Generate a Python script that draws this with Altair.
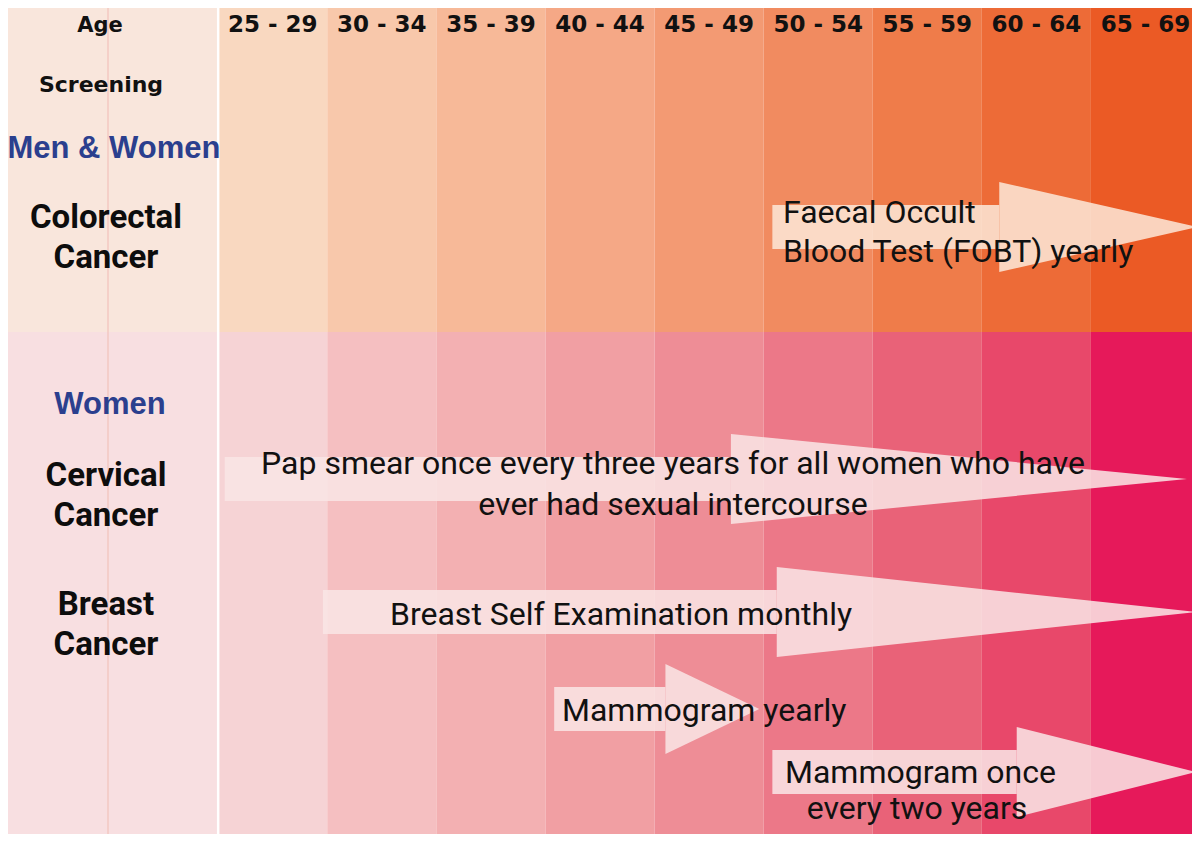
import altair as alt
import pandas as pd

# ---------------- data ----------------
age_groups = ["25 - 29", "30 - 34", "35 - 39", "40 - 44", "45 - 49",
              "50 - 54", "55 - 59", "60 - 64", "65 - 69"]
age_start = [25, 30, 35, 40, 45, 50, 55, 60, 65]

top_colors = ["#f9d8c0", "#f8c8ab", "#f7b998", "#f5a886", "#f39a73",
              "#f18b60", "#ef7c4a", "#ed6b37", "#eb5a25"]
bottom_colors = ["#f6d3d5", "#f5bfc1", "#f3b0b2", "#f19fa3", "#ee8d96",
                 "#ec7888", "#e96278", "#e8486a", "#e6195a"]
left_top_color = "#f9e6dc"
left_bottom_color = "#f8dfe1"

# screening recommendations (arrows), in age units
arrow_names = ["FOBT", "Pap smear", "Breast self exam", "Mammogram yearly", "Mammogram 2y"]
arrow_start = [50.4, 25.3, 29.8, 40.4, 50.4]
arrow_head = [60.8, 48.5, 50.6, 45.5, 61.6]
arrow_tip = [69.9, 69.4, 69.8, 49.8, 69.8]
arrow_row = [227, 479, 612, 709, 772]
arrow_fill = ["#fbe6d6", "#f9e5e5", "#f9e5e5", "#f9e5e5", "#f9e5e5"]

# ---------------- layout helpers ----------------
W, H = 1200, 842
AGE_MIN, AGE_MAX = 15, 70
SECTION_SPLIT = 332
SHAFT_HALF, HEAD_HALF = 22, 45
ARROW_OPACITY = 0.87


def px_to_age(px):
    return AGE_MIN + px * (AGE_MAX - AGE_MIN) / W


# background cells
cells = []
cells.append(dict(x=AGE_MIN, x2=25, y=0, y2=SECTION_SPLIT, c=left_top_color))
cells.append(dict(x=AGE_MIN, x2=25, y=SECTION_SPLIT, y2=H, c=left_bottom_color))
for s, ct, cb in zip(age_start, top_colors, bottom_colors):
    cells.append(dict(x=s, x2=s + 5, y=0, y2=SECTION_SPLIT, c=ct))
    cells.append(dict(x=s, x2=s + 5, y=SECTION_SPLIT, y2=H, c=cb))
cells_df = pd.DataFrame(cells)

# arrow shafts (rects) and heads (triangles drawn as areas)
shafts_df = pd.DataFrame(dict(
    arrow=arrow_names, x=arrow_start, x2=arrow_head, c=arrow_fill,
    y=[r - SHAFT_HALF for r in arrow_row], y2=[r + SHAFT_HALF for r in arrow_row],
))
head_pts = []
for name, ah, at, r, c in zip(arrow_names, arrow_head, arrow_tip, arrow_row, arrow_fill):
    head_pts.append(dict(arrow=name, x=ah, y=r - HEAD_HALF, y2=r + HEAD_HALF, c=c))
    head_pts.append(dict(arrow=name, x=at, y=r, y2=r, c=c))
heads_df = pd.DataFrame(head_pts)

x_scale = alt.Scale(domain=[AGE_MIN, AGE_MAX], nice=False, zero=False)
y_scale = alt.Scale(domain=[0, H], nice=False, zero=False, reverse=True)
X = lambda f: alt.X(f, type="quantitative", scale=x_scale, axis=None)
Y = lambda f: alt.Y(f, type="quantitative", scale=y_scale, axis=None)

bg = alt.Chart(cells_df).mark_rect(strokeWidth=0).encode(
    x=X("x"), x2="x2", y=Y("y"), y2="y2",
    color=alt.Color("c:N", scale=None),
)

rules_df = pd.DataFrame(dict(x=[25, px_to_age(108)], c=["#ffffff", "#f3c9c2"],
                             w=[2.5, 1.5]))
rules = alt.Chart(rules_df).mark_rule().encode(
    x=X("x"),
    color=alt.Color("c:N", scale=None),
    strokeWidth=alt.StrokeWidth("w:Q", scale=None),
)

shafts = alt.Chart(shafts_df).mark_rect(
    opacity=ARROW_OPACITY, strokeWidth=0
).encode(x=X("x"), x2="x2", y=Y("y"), y2="y2",
         color=alt.Color("c:N", scale=None))

heads = alt.Chart(heads_df).mark_area(
    opacity=ARROW_OPACITY
).encode(
    x=X("x"), y=Y("y"), y2="y2",
    detail="arrow:N",
    color=alt.Color("c:N", scale=None),
)

# ---------------- texts ----------------
def text_layer(rows, font, size, weight, color, align):
    df = pd.DataFrame(rows, columns=["t", "x", "y"])
    return alt.Chart(df).mark_text(
        font=font, fontSize=size, fontWeight=weight, color=color,
        align=align, baseline="alphabetic",
    ).encode(x=X("x"), y=Y("y"), text="t:N")


header_font = "DejaVu Sans"
age_label_rows = [(g, s + 2.5, 32) for g, s in zip(age_groups, age_start)]
t_ages = text_layer(age_label_rows, header_font, 23, "bold", "#111111", "center")
t_age = text_layer([("Age", px_to_age(100), 32)], header_font, 21, "bold", "#111111", "center")
t_scr = text_layer([("Screening", px_to_age(101), 92)], header_font, 22, "bold", "#111111", "center")

group_rows = [("Men & Women", px_to_age(114), 158), ("Women", px_to_age(110), 414)]
t_groups = text_layer(group_rows, "Liberation Sans", 31, "bold", "#2b3f8e", "center")

cancer_rows = [
    ("Colorectal", px_to_age(106), 228), ("Cancer", px_to_age(106), 268),
    ("Cervical", px_to_age(106), 486), ("Cancer", px_to_age(106), 526),
    ("Breast", px_to_age(106), 615), ("Cancer", px_to_age(106), 655),
]
t_cancers = text_layer(cancer_rows, "Roboto", 33, "bold", "#0d0d0d", "center")

arrow_font = "Roboto"
left_rows = [
    ("Faecal Occult", px_to_age(783), 223),
    ("Blood Test (FOBT) yearly", px_to_age(783), 262),
    ("Breast Self Examination monthly", px_to_age(390), 625),
    ("Mammogram yearly", px_to_age(562), 721),
    ("Mammogram once", px_to_age(785), 783),
]
center_rows = [
    ("Pap smear once every three years for all women who have", px_to_age(673), 474),
    ("ever had sexual intercourse", px_to_age(673), 515),
    ("every two years", px_to_age(917), 819),
]
t_arrow_left = text_layer(left_rows, arrow_font, 32, "normal", "#111111", "left")
t_arrow_center = text_layer(center_rows, arrow_font, 32, "normal", "#111111", "center")

# negative padding cancels the page's 8px margin so the chart maps 1:1 to the window
chart = alt.layer(
    bg, rules, shafts, heads, t_ages, t_age, t_scr, t_groups, t_cancers,
    t_arrow_left, t_arrow_center,
).properties(
    width=W, height=H, autosize="none",
    padding={"left": -8, "top": -8, "right": -8, "bottom": -8},
).configure_view(stroke=None)

chart.save("out.html", embed_options={"renderer": "svg", "actions": False})
